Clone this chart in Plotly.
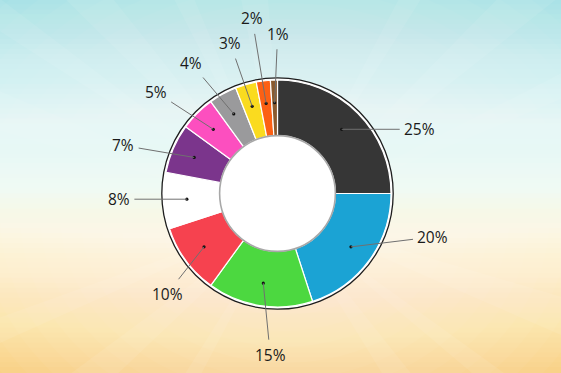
import numpy as np
import plotly.graph_objects as go

# ---------------- data ----------------
labels = ["25%", "20%", "15%", "10%", "8%", "7%", "5%", "4%", "3%", "2%", "1%"]
values = [25, 20, 15, 10, 8, 7, 5, 4, 3, 2, 1]
colors = ["#363636", "#1ba3d4", "#4cd840", "#f6424f", "#ffffff", "#7b358c",
          "#fc4fbf", "#9a9a9c", "#fadb1f", "#fc6014", "#8a5a2e"]

# leader-line label offsets (pixels from the dot) – styling only
label_dx = [78, 82, 7, -37, -68, -71, -57, -43, -22, -14, 3]
label_dy = [0, -10, 72, 47, 0, -12, -37, -51, -63, -85, -69]

# ---------------- geometry ----------------
W, H = 561, 373
cx, cy = 277.5, 193.5        # pie centre in px (from top-left)
R = 113.5                    # outer radius px
HOLE = 0.51
DOT_R = 0.80

def px2paper(x, y):
    return x / W, 1 - y / H

shapes = []

# background vertical gradient
stops_y = [0, 60, 130, 190, 235, 275, 325, 373]
stops_c = [(160, 222, 228), (196, 238, 240), (226, 247, 246), (240, 250, 244),
           (252, 246, 218), (253, 238, 192), (251, 223, 152), (249, 204, 112)]
nb = 75
edges = np.linspace(0, H, nb + 1)
for i in range(nb):
    ym = (edges[i] + edges[i + 1]) / 2
    c = [int(round(np.interp(ym, stops_y, [s[k] for s in stops_c]))) for k in range(3)]
    shapes.append(dict(type="rect", xref="paper", yref="paper", x0=0, x1=1,
                       y0=1 - edges[i + 1] / H - 0.002, y1=1 - edges[i] / H + 0.002,
                       fillcolor=f"rgb({c[0]},{c[1]},{c[2]})", line=dict(width=0),
                       layer="below"))

# soft glow around the centre
gx, gy = 285, 215
for r in np.linspace(340, 100, 16):
    x0, y0 = px2paper(gx - r * 1.25, gy - r)
    x1, y1 = px2paper(gx + r * 1.25, gy + r)
    shapes.append(dict(type="circle", xref="paper", yref="paper", x0=x0, x1=x1,
                       y0=y1, y1=y0, fillcolor="rgba(255,255,255,0.04)",
                       line=dict(width=0), layer="below"))

# faint rays
ray_angles = [200, 215, 228, 245, 262, 300, 318, 335, 20, 38, 55, 120, 140, 158]
for k, a in enumerate(ray_angles):
    w = 3.5 if k % 2 == 0 else 2.2
    L = 700
    pts = []
    for aa in (a - w, a + w):
        t = np.radians(aa)
        pts.append(px2paper(gx + L * np.cos(t), gy + L * np.sin(t)))
    p0 = px2paper(gx, gy)
    path = f"M {p0[0]},{p0[1]} L {pts[0][0]},{pts[0][1]} L {pts[1][0]},{pts[1][1]} Z"
    shapes.append(dict(type="path", xref="paper", yref="paper", path=path,
                       fillcolor="rgba(255,255,255,0.08)", line=dict(width=0),
                       layer="below"))

# outer ring (white gap + dark line)
ro = R + 2.2
x0, y0 = px2paper(cx - ro, cy - ro)
x1, y1 = px2paper(cx + ro, cy + ro)
shapes.append(dict(type="circle", xref="paper", yref="paper", x0=x0, x1=x1, y0=y1, y1=y0,
                   fillcolor="white", line=dict(color="#1e1e1e", width=1.3), layer="below"))

# inner hole
rh = R * HOLE
x0, y0 = px2paper(cx - rh, cy - rh)
x1, y1 = px2paper(cx + rh, cy + rh)
shapes.append(dict(type="circle", xref="paper", yref="paper", x0=x0, x1=x1, y0=y1, y1=y0,
                   fillcolor="white", line=dict(color="#a8a8a8", width=1.6), layer="above"))

dom_x = [(cx - R) / W, (cx + R) / W]
dom_y = [1 - (cy + R) / H, 1 - (cy - R) / H]

fig = go.Figure(go.Pie(
    labels=labels, values=values, sort=False, direction="clockwise", rotation=0,
    hole=HOLE, textinfo="none", hoverinfo="label",
    marker=dict(colors=colors, line=dict(color="white", width=1.2)),
    domain=dict(x=dom_x, y=dom_y), showlegend=False,
))

# leader lines with dots
total = sum(values)
cum = 0
annotations = []
DOT = 1.6
for lab, v, dx, dy in zip(labels, values, label_dx, label_dy):
    mid = (cum + v / 2) / total * 2 * np.pi
    cum += v
    px = cx + DOT_R * R * np.sin(mid)
    py = cy - DOT_R * R * np.cos(mid)
    xp, yp = px2paper(px, py)
    annotations.append(dict(
        x=xp, y=yp, xref="paper", yref="paper", text=lab, showarrow=True,
        ax=dx, ay=dy, axref="pixel", ayref="pixel",
        arrowhead=0, arrowwidth=1, arrowcolor="#707070",
        standoff=0, startstandoff=4, borderpad=0,
        font=dict(family="Open Sans", size=15.5, color="#1a1a1a"),
    ))
    a0, b0 = px2paper(px - DOT, py - DOT)
    a1, b1 = px2paper(px + DOT, py + DOT)
    shapes.append(dict(type="circle", xref="paper", yref="paper", x0=a0, x1=a1,
                       y0=b1, y1=b0, fillcolor="#111111", line=dict(width=0),
                       layer="above"))

fig.update_layout(
    width=W, height=H, margin=dict(l=0, r=0, t=0, b=0),
    paper_bgcolor="#f0f8f0", plot_bgcolor="rgba(0,0,0,0)",
    shapes=shapes, annotations=annotations,
)

fig.write_html("out.html")
